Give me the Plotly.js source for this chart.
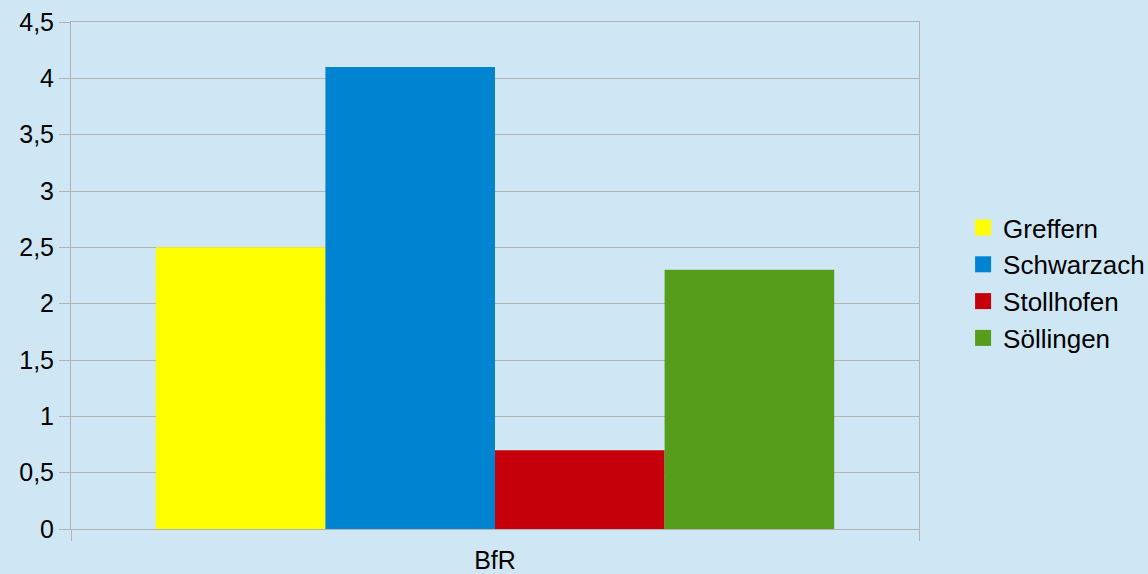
<!DOCTYPE html>
<html><head><meta charset="utf-8">
<script src="https://cdn.plot.ly/plotly-3.0.1.min.js"></script>
<style>html,body{margin:0;padding:0;background:#cfe7f5;}</style>
</head><body>
<div id="chart" style="width:1148px;height:574px;"></div>
<script>
const categories = ["BfR"];
const seriesNames = ["Greffern", "Schwarzach", "Stollhofen", "Söllingen"];
const seriesValues = [[2.5], [4.1], [0.7], [2.3]];
const seriesColors = ["#ffff00", "#0084d1", "#c5000b", "#579d1c"];
const yTicks = [0, 0.5, 1, 1.5, 2, 2.5, 3, 3.5, 4, 4.5];

const bars = seriesNames.map((n, i) => ({
  type: "bar", name: n, x: categories, y: seriesValues[i], showlegend: false,
  legendgroup: n, marker: {color: seriesColors[i], line: {width: 0}}, hoverinfo: "none"
}));
const legendItems = seriesNames.map((n, i) => ({
  type: "scatter", mode: "markers", name: n, x: [null], y: [null], legendgroup: n,
  marker: {symbol: "square", size: 16, color: seriesColors[i]}, hoverinfo: "none"
}));

const layout = {
  width: 1148, height: 574,
  paper_bgcolor: "#cfe7f5", plot_bgcolor: "#cfe7f5",
  margin: {l: 71, r: 229, t: 22, b: 45, autoexpand: false},
  separators: ",.",
  font: {family: "Liberation Sans, Arial, sans-serif", size: 25, color: "#000"},
  barmode: "group", bargap: 0.2, bargroupgap: 0,
  xaxis: {
    type: "category", tickson: "boundaries", ticks: "outside", ticklen: 11,
    tickcolor: "#b3b3b3", tickwidth: 1, showgrid: false,
    showline: true, mirror: true, linecolor: "#b3b3b3", zeroline: false,
    tickfont: {size: 25}, range: [-0.5, 0.5], ticklabelstandoff: 9
  },
  yaxis: {
    range: [0, 4.5], tickvals: yTicks, ticks: "outside", ticklen: 11,
    tickcolor: "#b3b3b3", gridcolor: "#b3b3b3", zeroline: false,
    showline: true, mirror: true, linecolor: "#b3b3b3",
    tickfont: {size: 25}, ticklabelstandoff: 0
  },
  legend: {x: 1.052, xanchor: "left", y: 0.485, yanchor: "middle",
    font: {size: 26}, bgcolor: "rgba(0,0,0,0)", itemwidth: 30, tracegroupgap: 0},
  showlegend: true
};
Plotly.newPlot("chart", bars.concat(legendItems), layout, {displayModeBar: false, staticPlot: true});
</script>
</body></html>
